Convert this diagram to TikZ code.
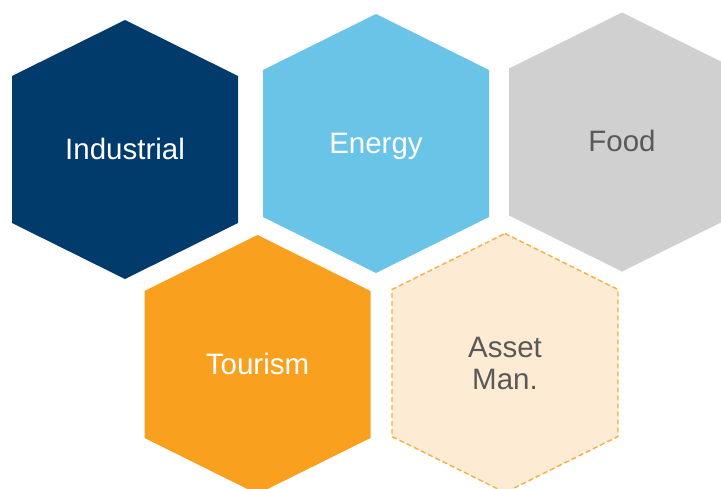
\documentclass[tikz,border=0pt]{standalone}
\usepackage{fontspec}
\setmainfont{Liberation Sans}
\definecolor{navy}{HTML}{003B6B}
\definecolor{sky}{HTML}{6AC4E8}
\definecolor{lgray}{HTML}{D0D0D0}
\definecolor{orng}{HTML}{F9A11E}
\definecolor{peach}{HTML}{FDEBD3}
\definecolor{dash}{HTML}{F9AE45}
\definecolor{dgray}{HTML}{595959}
\tikzset{
  hexpath/.style={},
  lbl/.style={anchor=base, inner sep=0pt, font=\fontsize{29.5}{32}\selectfont},
}
\newcommand\hexagonat[3]{%
  \path[#3, shift={#1}] (0,-129.5) -- (113,-73.5) -- (113,73.5) -- (0,129.5) -- (-113,73.5) -- (-113,-73.5) -- cycle;
  \coordinate (#2) at #1;}
\begin{document}
\begin{tikzpicture}[x=1pt,y=-1pt]
\useasboundingbox (0,0) rectangle (721,488);
\fill[white] (0,0) rectangle (721,488);
\hexagonat{(125,149.5)}{hexind}{fill=navy}
\hexagonat{(376,143.5)}{hexene}{fill=sky}
\hexagonat{(622,142)}{hexfood}{fill=lgray}
\hexagonat{(257.5,364.5)}{hextour}{fill=orng}
\hexagonat{(505,363)}{hexasset}{fill=peach, draw=dash, line width=1.4pt, dash pattern=on 5pt off 3pt}
\node[lbl, text=white] (industrial) at (125,159.3) {Industrial};
\node[lbl, text=white] (energy) at (376,153.3) {Energy};
\node[lbl, text=dgray] (food) at (622,151.7) {Food};
\node[lbl, text=white] (tourism) at (257.5,374) {Tourism};
\node[lbl, text=dgray] (assetA) at (505,357) {Asset};
\node[lbl, text=dgray] (assetB) at (505,389) {Man.};
\end{tikzpicture}
\end{document}
